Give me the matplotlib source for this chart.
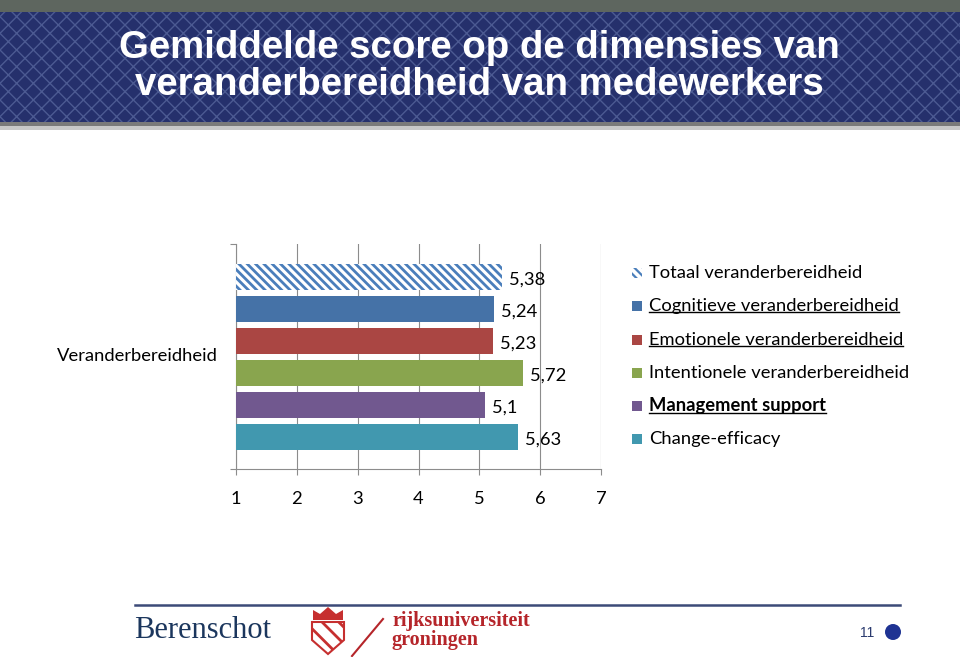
import matplotlib
matplotlib.use("Agg")
import matplotlib.pyplot as plt
from matplotlib.patches import Rectangle, Ellipse, Polygon
from matplotlib.lines import Line2D

# data
categories = ["Totaal veranderbereidheid", "Cognitieve veranderbereidheid",
              "Emotionele veranderbereidheid", "Intentionele veranderbereidheid",
              "Management support", "Change-efficacy"]
values = [5.38, 5.24, 5.23, 5.72, 5.1, 5.63]
value_labels = ["5,38", "5,24", "5,23", "5,72", "5,1", "5,63"]
colors = ["#4a7ebb", "#4572a7", "#aa4643", "#89a54e", "#71588f", "#4198af"]
x_ticks = [1, 2, 3, 4, 5, 6, 7]
group_label = "Veranderbereidheid"
title_lines = ["Gemiddelde score op de dimensies van",
               "veranderbereidheid van medewerkers"]

W, H = 960, 657
FS = 13.2
plt.rcParams["font.family"] = ["Lato", "DejaVu Sans"]

fig = plt.figure(figsize=(W / 100, H / 100), dpi=100)
fig.patch.set_facecolor("white")


def fx(x):
    return x / W


def fy(y):
    return 1 - y / H


def rect(x0, y0, x1, y1, **kw):
    r = Rectangle((fx(x0), fy(y1)), fx(x1 - x0), (y1 - y0) / H,
                  transform=fig.transFigure, **kw)
    fig.patches.append(r)
    return r


# banner
plt.rcParams["hatch.linewidth"] = 1.0
rect(0, 0, W, 12, facecolor="#5e665f", linewidth=0)
rect(0, 12, W, 122, facecolor="#25306c", edgecolor="#4c5a92", hatch="xx", linewidth=0)
rect(0, 122, W, 126, facecolor="#7a7a7a", linewidth=0)
rect(0, 126, W, 130, facecolor="#c8c8c8", linewidth=0)
for i, line in enumerate(title_lines):
    fig.text(fx(479), fy(48 + i * 37), line, color="white", fontsize=27.6,
             fontweight="bold", ha="center", va="center",
             family=["Liberation Sans Narrow", "Liberation Sans"])

# chart
plt.rcParams["hatch.linewidth"] = 2.0
ax = fig.add_axes([fx(236), fy(469), fx(601 - 236), (469 - 244) / H])
ypos = list(range(len(values)))
for i, (v, c) in enumerate(zip(values, colors)):
    if i == 0:
        ax.barh(ypos[i], v - 1, left=1, height=0.8, facecolor="white",
                edgecolor=c, hatch="\\\\\\\\", linewidth=0, zorder=3)
    else:
        ax.barh(ypos[i], v - 1, left=1, height=0.8, color=c, zorder=3)
    ax.annotate(value_labels[i], (v, ypos[i]), xytext=(5, -2),
                textcoords="offset points", ha="left", va="center", fontsize=FS)

ax.set_xlim(1, 7)
ax.set_ylim(6.0, -1.03)
ax.set_xticks(x_ticks)
ax.set_xticklabels([str(t) for t in x_ticks], fontsize=FS)
ax.set_yticks([-1.03, 6.0])
ax.set_yticklabels(["", ""])
ax.tick_params(axis="x", length=4.5, color="#8c8c8c", pad=11)
ax.tick_params(axis="y", length=4.5, color="#8c8c8c")
ax.grid(axis="x", color="#8c8c8c", linewidth=0.8, zorder=0)
for s in ["top", "right"]:
    ax.spines[s].set_visible(False)
for s in ["left", "bottom"]:
    ax.spines[s].set_color("#8c8c8c")
ax.set_facecolor("none")
fig.text(fx(218), fy(356), group_label, ha="right", va="center", fontsize=FS)

# legend
leg_y = [273, 306, 340, 373, 406, 439]
underline = [False, True, True, False, True, False]
bold = [False, False, False, False, True, False]
plt.rcParams["hatch.linewidth"] = 1.6
texts = []
for i, name in enumerate(categories):
    yy = leg_y[i]
    if i == 0:
        rect(632, yy - 5, 642, yy + 5, facecolor="white", edgecolor=colors[0],
             hatch="\\\\\\\\", linewidth=0)
    else:
        rect(632, yy - 5, 642, yy + 5, facecolor=colors[i], linewidth=0)
    t = fig.text(fx(649), fy(yy), name, ha="left", va="center", fontsize=FS,
                 fontweight="bold" if bold[i] else "normal")
    texts.append(t)

fig.canvas.draw()
r = fig.canvas.get_renderer()
for t, u in zip(texts, underline):
    if u:
        bb = t.get_window_extent(r)
        yl = (bb.y0 + 2) / H
        fig.lines.append(Line2D([bb.x0 / W, bb.x1 / W], [yl, yl],
                                transform=fig.transFigure, color="black", linewidth=1))

# footer
fig.lines.append(Line2D([fx(135), fx(900)], [fy(605), fy(605)],
                        transform=fig.transFigure, color="#3c4a78", linewidth=1.8))
fig.text(fx(134), fy(631), "Berenschot", ha="left", va="center", fontsize=22,
         color="#1b365d", family="Liberation Serif")
plt.rcParams["hatch.linewidth"] = 2.0
shield = Polygon([(fx(312), fy(622)), (fx(344), fy(622)), (fx(344), fy(640)),
                  (fx(328), fy(654)), (fx(312), fy(640))],
                 closed=True, transform=fig.transFigure, facecolor="white",
                 edgecolor="#c62f2f", hatch="\\\\", linewidth=1.5)
fig.patches.append(shield)
crown = Polygon([(fx(313), fy(620)), (fx(313), fy(610)), (fx(320), fy(614)),
                 (fx(328), fy(607)), (fx(336), fy(614)), (fx(343), fy(610)),
                 (fx(343), fy(620))],
                closed=True, transform=fig.transFigure, facecolor="#c62f2f",
                edgecolor="none")
fig.patches.append(crown)
fig.lines.append(Line2D([fx(383), fx(352)], [fy(619), fy(656)],
                        transform=fig.transFigure, color="#b5252a", linewidth=1.5))
fig.text(fx(392), fy(621), "rijksuniversiteit", ha="left", va="center",
         fontsize=14.5, color="#b5252a", fontweight="bold", family="Liberation Serif")
fig.text(fx(392), fy(640), "groningen", ha="left", va="center",
         fontsize=14.5, color="#b5252a", fontweight="bold", family="Liberation Serif")
fig.text(fx(874), fy(633), "11", ha="right", va="center", fontsize=10,
         color="#2a3a6e", family="Liberation Sans")
fig.patches.append(Ellipse((fx(893), fy(632)), 16 / W, 16 / H,
                           transform=fig.transFigure, facecolor="#1f3393",
                           edgecolor="none"))

fig.savefig("out.png", dpi=100)
